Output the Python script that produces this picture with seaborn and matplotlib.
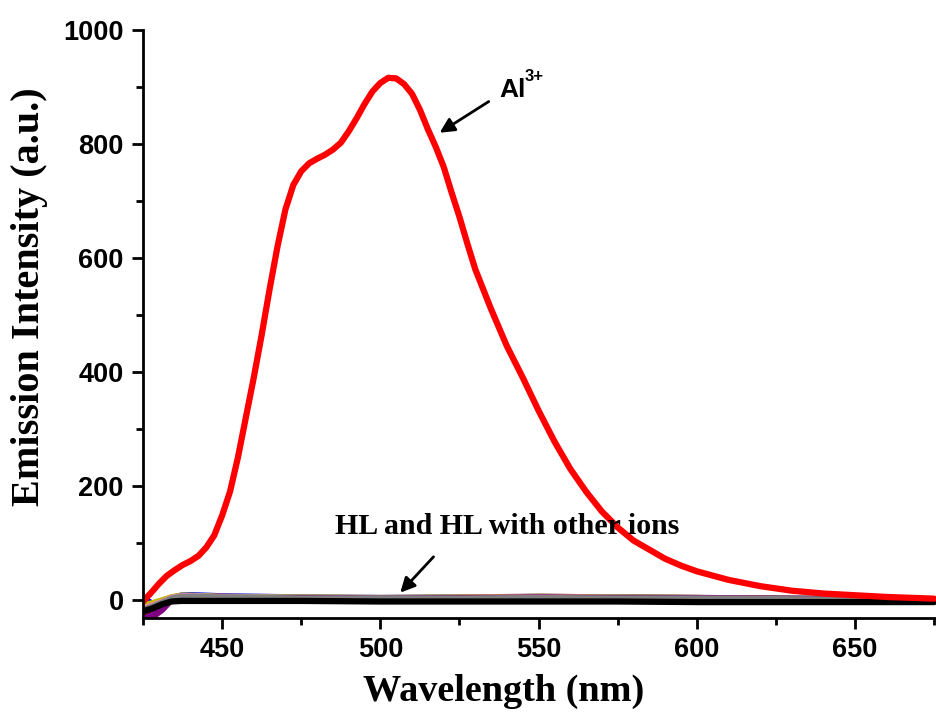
import numpy as np
import pandas as pd
import matplotlib
matplotlib.use("Agg")
import matplotlib.pyplot as plt
import seaborn as sns
from matplotlib.ticker import MultipleLocator

# ------------------------------
# Data
# ------------------------------

wl_al = [425, 427.5, 430, 432.5, 435, 437.5, 440, 442.5, 445, 447.5, 450,
         452.5, 455, 457.5, 460, 462.5, 465, 467.5, 470, 472.5, 475, 477.5,
         480, 482.5, 485, 487.5, 490, 492.5, 495, 497.5, 500, 502.5, 505,
         507.5, 510, 512.5, 515, 517.5, 520, 522.5, 525, 527.5, 530, 535,
         540, 545, 550, 555, 560, 565, 570, 575, 580, 585, 590, 595, 600,
         610, 620, 630, 640, 650, 660, 675]
al_int = [-3, 12, 28, 42, 52, 61, 68, 77, 92, 113, 148,
          190, 250, 320, 390, 465, 545, 620, 685, 728, 752, 766,
          774, 781, 790, 802, 822, 845, 870, 892, 907, 916, 915,
          905, 888, 860, 826, 795, 760, 715, 672, 625, 580, 510,
          445, 390, 332, 278, 230, 190, 155, 127, 104, 88, 72, 60, 50,
          35, 24, 16, 11, 8, 5, 2]

wl_ion = [425, 428, 431, 434, 437, 440, 450, 475, 500, 525, 550, 575, 600,
          625, 650, 675]
ion_names = ["Na+", "K+", "Mg2+", "Ca2+", "Mn2+", "Fe3+", "Co2+", "Ni2+",
             "Cu2+", "Zn2+", "Cd2+", "Hg2+", "Pb2+", "HL"]
ion_int = [
    [-10, -6, 0, 6, 9, 8, 6, 5, 4, 5, 6, 5, 4, 3, 2, 1],
    [-15, -8, -2, 5, 8, 8, 6, 5, 4, 5, 7, 6, 5, 3, 2, 1],
    [5, -5, -3, 4, 9, 10, 8, 6, 5, 6, 7, 6, 5, 4, 3, 2],
    [-30, -25, -12, 2, 7, 7, 5, 4, 4, 4, 5, 4, 3, 2, 1, 0],
    [-20, -12, -4, 4, 7, 7, 6, 4, 4, 4, 5, 5, 4, 3, 2, 1],
    [-12, -6, 0, 5, 8, 8, 7, 5, 4, 5, 6, 5, 4, 3, 2, 2],
    [-18, -10, -3, 3, 6, 6, 5, 3, 2, 3, 4, 3, 2, 1, 0, -1],
    [-8, -4, 1, 6, 9, 9, 7, 6, 5, 6, 7, 6, 5, 4, 3, 2],
    [-25, -18, -8, 3, 7, 7, 5, 4, 3, 3, 4, 3, 2, 1, 0, -1],
    [-22, -15, -6, 4, 8, 8, 6, 5, 4, 4, 5, 5, 4, 3, 2, 1],
    [-14, -8, -2, 5, 8, 8, 6, 5, 4, 5, 6, 5, 4, 3, 2, 1],
    [-35, -30, -18, 0, 3, 4, 3, 3, 2, 3, 4, 3, 3, 2, 1, 0],
    [-16, -10, -3, 4, 7, 7, 6, 4, 4, 4, 5, 4, 4, 3, 2, 1],
    [-20, -15, -8, -3, -2, -2, -2, -2, -3, -3, -3, -3, -4, -4, -4, -4],
]
ion_colors = ["#808000", "#ff8000", "#0000ff", "#8000ff", "#008080",
              "#ff00ff", "#000080", "#c0c000", "#800000", "#00a0a0",
              "#ff80c0", "#800080", "#808080", "#000000"]

# ------------------------------
# Plot
# ------------------------------

sns.set_style("ticks")
plt.rcParams["font.family"] = ["Liberation Sans", "DejaVu Sans"]
plt.rcParams["text.color"] = "black"
plt.rcParams["axes.labelcolor"] = "black"
plt.rcParams["xtick.color"] = "black"
plt.rcParams["ytick.color"] = "black"

fig = plt.figure(figsize=(9.36, 7.13), dpi=100)
ax = fig.add_axes([0.1528, 0.1332, 0.8472, 0.8248])

for name, vals, col in zip(ion_names, ion_int, ion_colors):
    df = pd.DataFrame({"wl": wl_ion, "I": vals})
    lw = 4.5 if name in ("HL", "Hg2+") else 3
    sns.lineplot(data=df, x="wl", y="I", color=col, lw=lw, ax=ax)

al_df = pd.DataFrame({"wl": wl_al, "I": al_int})
sns.lineplot(data=al_df, x="wl", y="I", color="#ff0000", lw=4.5, ax=ax)

ax.set_xlim(425, 675.6)
ax.set_ylim(-32, 1000)
ax.xaxis.set_major_locator(MultipleLocator(50))
ax.xaxis.set_minor_locator(MultipleLocator(25))
ax.yaxis.set_major_locator(MultipleLocator(200))
ax.yaxis.set_minor_locator(MultipleLocator(100))

for s in ["top", "right"]:
    ax.spines[s].set_visible(False)
for s in ["left", "bottom"]:
    ax.spines[s].set_linewidth(2)
    ax.spines[s].set_color("black")

ax.tick_params(which="major", length=8, width=2, direction="out",
               labelsize=19.5, pad=6)
ax.tick_params(which="minor", length=5, width=2, direction="out")
for lab in ax.get_xticklabels() + ax.get_yticklabels():
    lab.set_fontweight("bold")

ax.set_xlabel("Wavelength (nm)", family="Liberation Serif", fontweight="bold",
              fontsize=27.5)
ax.set_ylabel("Emission Intensity (a.u.)", family="Liberation Serif",
              fontweight="bold", fontsize=29)
ax.xaxis.set_label_coords(0.455, -0.095)
ax.yaxis.set_label_coords(-0.12, 0.546)

# annotations
ax.annotate("", xy=(518, 817), xytext=(535, 877),
            arrowprops=dict(arrowstyle="-|>", color="black", lw=2,
                            mutation_scale=22))
ax.text(537.5, 894, "Al", fontsize=19, fontweight="bold",
        ha="left", va="center")
ax.text(545.6, 918, "3+", fontsize=12, fontweight="bold",
        ha="left", va="center")
ax.annotate("", xy=(505.7, 9), xytext=(517.4, 79),
            arrowprops=dict(arrowstyle="-|>", color="black", lw=2,
                            mutation_scale=22))
ax.text(540, 128, "HL and HL with other ions", family="Liberation Serif",
        fontweight="bold", fontsize=21.5, ha="center", va="center")

fig.savefig("out.png", dpi=100)
